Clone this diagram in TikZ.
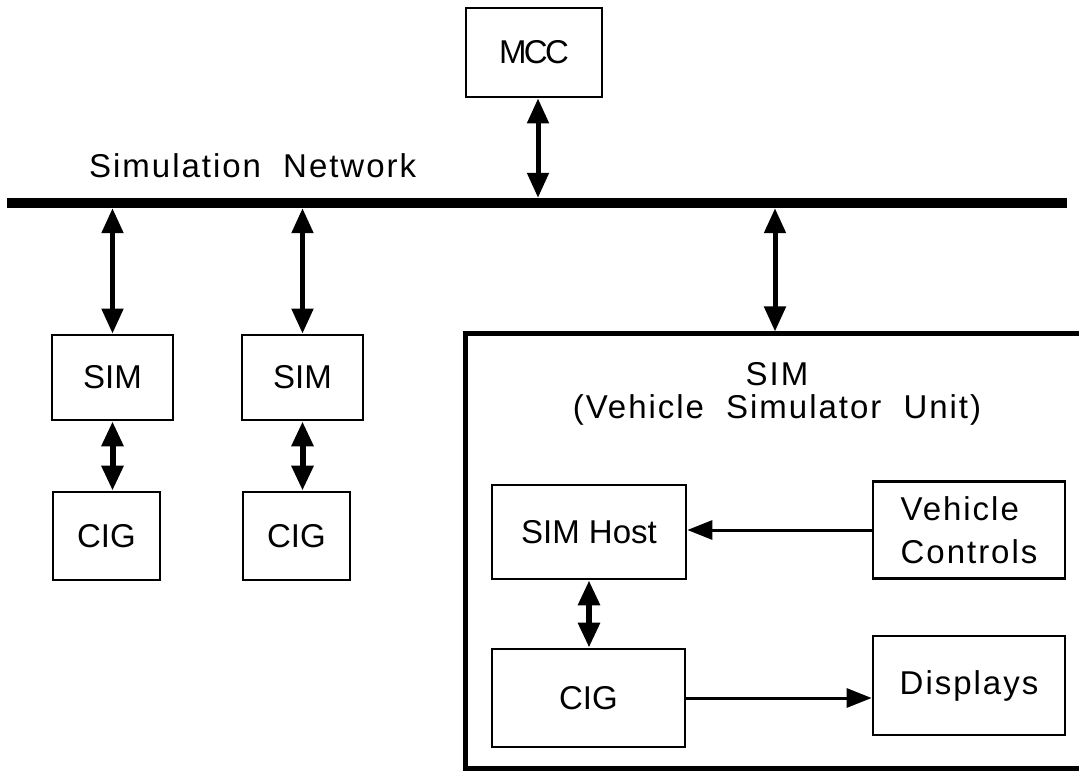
\documentclass[tikz,border=0pt]{standalone}
\usepackage{fontspec}
\setmainfont{Liberation Sans}
\newfontfamily\widefont{Liberation Sans}[LetterSpace=6]
\usetikzlibrary{arrows.meta}
\begin{document}
\begin{tikzpicture}[x=1pt,y=-1pt,
  box/.style={draw, line width=2.8pt, inner sep=0pt, font=\fontsize{33}{35}\selectfont},
  wbox/.style={box, font=\widefont\fontsize{33}{43}\selectfont},
  biarrow/.style={line width=5pt, {Triangle[length=25pt,width=21pt]}-{Triangle[length=25pt,width=21pt]}},
  onearrow/.style={line width=3pt, -{Triangle[length=25pt,width=19pt]}},
  lbl/.style={font=\widefont\fontsize{33}{33}\selectfont, inner sep=0pt}]
\useasboundingbox (0,0) rectangle (1079,775);
\fill[white] (0,0) rectangle (1079,775);
% network bus
\node[fill=black, inner sep=0pt, minimum width=1060pt, minimum height=10pt] (bus) at (537,203) {};
\node[lbl, anchor=base west] (netlbl) at (89,178) {Simulation\hspace{11pt} Network};
% MCC
\node[box, minimum width=136pt, minimum height=89pt] (mcc) at (534,52.5) {\addfontfeature{LetterSpace=-8}MCC};
\draw[biarrow] ([xshift=4pt]mcc.south) -- ([xshift=4pt]mcc.south |- bus.north);
% left simulators
\node[box, minimum width=121pt, minimum height=85pt] (sim1) at (112.5,377.5) {SIM};
\node[box, minimum width=121pt, minimum height=85pt] (sim2) at (302.5,377.5) {SIM};
\node[box, minimum width=107pt, minimum height=88pt] (cig1) at (106.5,536) {CIG};
\node[box, minimum width=107pt, minimum height=88pt] (cig2) at (296.5,536) {CIG};
\draw[biarrow] (sim1.north) -- (sim1.north |- bus.south);
\draw[biarrow] (sim2.north) -- (sim2.north |- bus.south);
\draw[biarrow, line width=6pt] (sim1.south) -- (sim1.south |- cig1.north);
\draw[biarrow, line width=6pt] (sim2.south) -- (sim2.south |- cig2.north);
% vehicle simulator unit
\node[draw, line width=5pt, inner sep=0pt, minimum width=620pt, minimum height=434pt] (unit) at (775,551) {};
\draw[biarrow] (unit.north) -- (unit.north |- bus.south);
\node[lbl, align=center, anchor=base] (utitle) at (777,419) {SIM\\(Vehicle\hspace{11pt} Simulator\hspace{11pt} Unit)};
\node[box, minimum width=194pt, minimum height=94pt] (host) at (589,532) {SIM Host};
\node[wbox, align=left, minimum width=192pt, minimum height=97pt] (vc) at (969,530) {Vehicle\\Controls};
\node[box, minimum width=193pt, minimum height=98pt] (cigu) at (588.5,698) {CIG};
\node[wbox, minimum width=192pt, minimum height=99pt] (disp) at (969,685.5) {Displays};
\draw[biarrow, line width=6pt] (host.south) -- (host.south |- cigu.north);
\draw[onearrow] (vc.west) -- (vc.west -| host.east);
\draw[onearrow] (cigu.east) -- (cigu.east -| disp.west);
\end{tikzpicture}
\end{document}
